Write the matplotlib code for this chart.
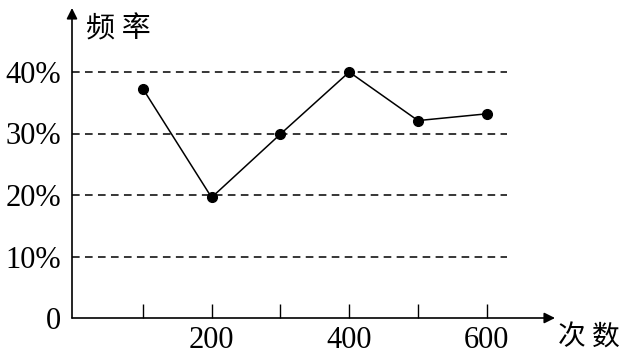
import matplotlib
matplotlib.use("Agg")
import matplotlib.pyplot as plt

# data
counts = [100, 200, 300, 400, 500, 600]
freq = [37.3, 19.6, 29.9, 40.0, 32.1, 33.2]
grid_levels = [10, 20, 30, 40]
ytick_vals = [0, 10, 20, 30, 40]
ytick_labels = ["0", "10%", "20%", "30%", "40%"]
xtick_vals = [100, 200, 300, 400, 500, 600]
xtick_labels = ["", "200", "", "400", "", "600"]

W, H = 626, 354
fig = plt.figure(figsize=(W / 100, H / 100), dpi=100)

# axes box in pixels: left 72, right 555 (arrow tip), bottom 318, top 8
x0, x1, yb, yt = 72, 555, 318, 8
ax = fig.add_axes([x0 / W, (H - yb) / H, (x1 - x0) / W, (yb - yt) / H])
px_per_x = 0.688
px_per_y = 6.15
xorig = -2 / px_per_x
ax.set_xlim(xorig, xorig + (x1 - x0) / px_per_x)
ax.set_ylim(0, (yb - yt) / px_per_y)

for s in ax.spines.values():
    s.set_visible(False)

serif = ["Liberation Serif", "DejaVu Serif"]
cjk = ["Noto Sans CJK SC", "DejaVu Sans"]

# dashed grid lines
grid_end = xorig + (507 - x0) / px_per_x
ax.hlines(grid_levels, xorig, grid_end, colors="black", linestyles=(0, (5, 3.5)), lw=1.1)

# axes arrows
ax.annotate("", xy=(1, 0), xytext=(0, 0), xycoords="axes fraction",
            arrowprops=dict(arrowstyle="-|>", color="black", lw=1.2, mutation_scale=16, shrinkA=0, shrinkB=0))
ax.annotate("", xy=(0, 1), xytext=(0, 0), xycoords="axes fraction",
            arrowprops=dict(arrowstyle="-|>", color="black", lw=1.2, mutation_scale=16, shrinkA=0, shrinkB=0))

# data line
ax.plot(counts, freq, color="black", lw=1.1, marker="o", markersize=7, zorder=3, clip_on=False)

# ticks
ax.set_xticks(xtick_vals)
ax.set_xticklabels(xtick_labels, family=serif, fontsize=22)
ax.tick_params(axis="x", direction="in", length=10, width=1, pad=6, color="black")
ax.set_yticks(ytick_vals)
ax.set_yticklabels(ytick_labels, family=serif, fontsize=22)
ax.tick_params(axis="y", length=0, pad=8)

# axis titles
ax.text(86 / 626, 1 - 30 / 354, "频 率", transform=fig.transFigure, family=cjk,
        fontsize=21, ha="left", va="center")
ax.text(558 / 626, 1 - 338 / 354, "次 数", transform=fig.transFigure, family=cjk,
        fontsize=20, ha="left", va="center")

fig.savefig("out.png", dpi=100)
